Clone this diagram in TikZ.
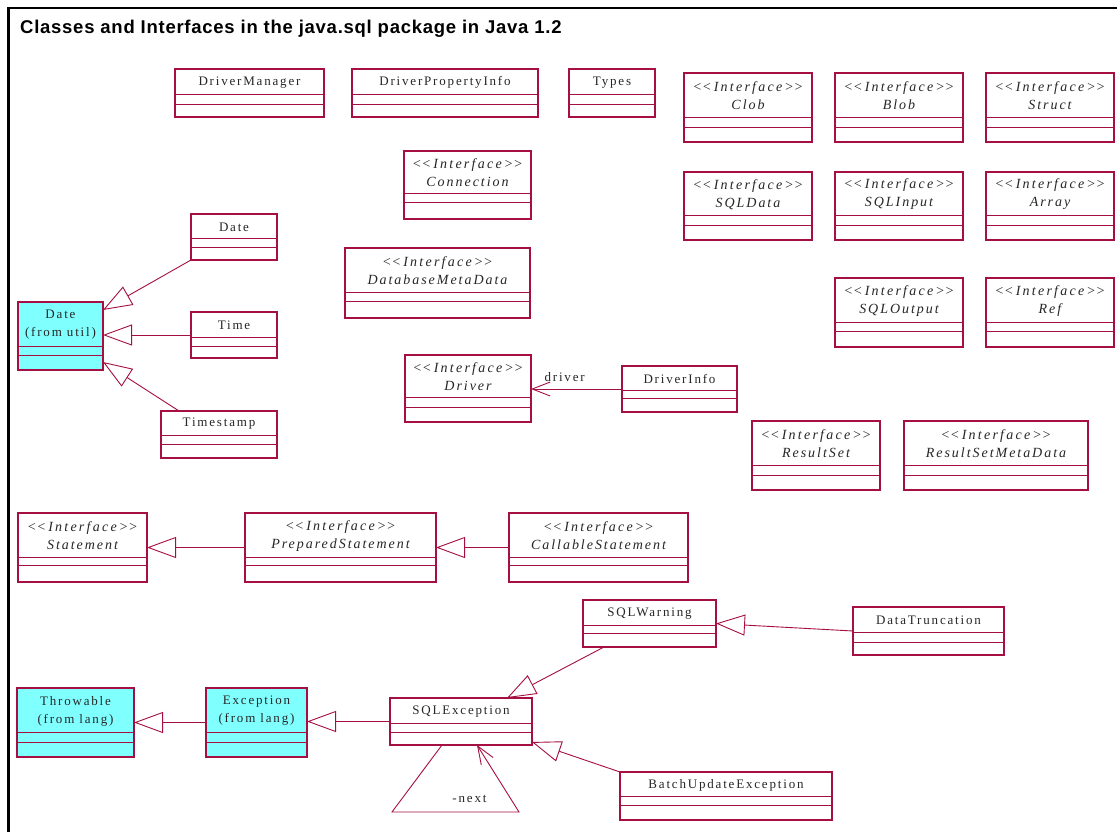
\documentclass[tikz,border=0pt]{standalone}
\usepackage{fontspec}
\setmainfont{Liberation Serif}
\newfontfamily\boxfont[LetterSpace=14]{Liberation Serif}
\newfontfamily\stereofont[LetterSpace=16]{Liberation Serif}
\newfontfamily\titlefont[LetterSpace=4]{Liberation Sans}
\usetikzlibrary{arrows.meta}

\definecolor{umlline}{RGB}{165,15,65}
\definecolor{umlfill}{RGB}{128,255,255}

\tikzset{
  classbox/.style={draw=umlline, line width=1.1pt, anchor=north west,
    inner sep=0pt, outer sep=0pt},
  compline/.style={draw=umlline, line width=0.9pt},
  nametext/.style={font=\boxfont\fontsize{13}{18}\selectfont, text=black!85,
    inner sep=0pt, align=center},
  gen/.style={draw=umlline, line width=0.9pt,
    -{Triangle[open, length=29pt, width=21pt, line width=0.9pt]}},
  assoc/.style={draw=umlline, line width=0.9pt,
    -{Straight Barb[length=18pt, width=14pt, line width=0.9pt]}},
}

% class box: [fill] name, x1, y1, x2, y2, first and second compartment line, label
\newcommand\umlclass[9][]{%
  \node[classbox,#1, minimum width={#5pt-#3pt}, minimum height={#6pt-#4pt}] (#2) at (#3,#4) {};
  \draw[compline] (#3,#7) -- (#5,#7) (#3,#8) -- (#5,#8);
  \node[nametext] (#2-label) at ({(#3+#5)/2},{(#4+#7)/2+1}) {#9};
}
% interface label: stereotype line and italic name
\newcommand\iface[1]{{\stereofont\itshape\fontsize{14}{18}\selectfont <\kern0pt<Interface>\kern0pt>}\\{\itshape\fontsize{14}{18}\selectfont #1}}

\begin{document}
\begin{tikzpicture}[x=1pt, y=-1pt]
\useasboundingbox (0,0) rectangle (1117,832);
\fill[white] (0,0) rectangle (1117,832);

% outer frame
\draw[line width=2.7pt] (8.7,840) -- (8.7,8) -- (1125,8);

\node[anchor=base west, inner sep=0pt, font=\titlefont\bfseries\fontsize{18.5}{22}\selectfont]
  (title) at (20,34) {Classes and Interfaces in the java.sql package in Java 1.2};

% plain classes along the top
\umlclass{dmgr}{175}{69}{324}{117}{94}{104}{DriverManager}
\umlclass{dpinfo}{352}{69}{538}{117}{94}{104}{DriverPropertyInfo}
\umlclass{types}{569}{69}{655}{117}{94}{104}{Types}

% interfaces, right block
\umlclass{clob}{684}{73}{812}{142}{117}{127}{\iface{Clob}}
\umlclass{blob}{835}{73}{963}{142}{117}{127}{\iface{Blob}}
\umlclass{struct}{986}{73}{1114}{142}{117}{127}{\iface{Struct}}
\umlclass{sqldata}{684}{172}{812}{240}{215}{225}{\iface{SQLData}}
\umlclass{sqlinput}{835}{172}{963}{240}{215}{225}{\iface{SQLInput}}
\umlclass{array}{986}{172}{1114}{240}{215}{225}{\iface{Array}}
\umlclass{sqloutput}{835}{278}{963}{347}{322}{331}{\iface{SQLOutput}}
\umlclass{ref}{986}{278}{1114}{347}{322}{331}{\iface{Ref}}

% connection related interfaces
\umlclass{conn}{404}{151}{531}{219}{193}{202}{\iface{Connection}}
\umlclass{dbmeta}{345}{248}{530}{318}{292}{301}{\iface{DatabaseMetaData}}
\umlclass{driver}{405}{355}{531}{422}{397}{407}{\iface{Driver}}
\umlclass{dinfo}{622}{366}{737}{412}{390}{398}{DriverInfo}
\umlclass{rset}{752}{421}{880}{490}{465}{475}{\iface{ResultSet}}
\umlclass{rsmeta}{904}{421}{1088}{490}{465}{475}{\iface{ResultSetMetaData}}

% date and time classes
\umlclass{dsql}{191}{214}{277}{260}{238}{247}{Date}
\umlclass[fill=umlfill]{dutil}{18}{302}{103}{370}{346}{355}{Date\\(from util)}
\umlclass{time}{191}{312}{277}{358}{337}{346}{Time}
\umlclass{tstamp}{161}{411}{277}{458}{435}{444}{Timestamp}

% statements
\umlclass{stmt}{18}{513}{147}{582}{557}{565}{\iface{Statement}}
\umlclass{prep}{245}{513}{436}{582}{557}{565}{\iface{PreparedStatement}}
\umlclass{call}{509}{513}{688}{582}{557}{565}{\iface{CallableStatement}}

% exceptions
\umlclass{warn}{583}{600}{716}{647}{625}{633}{SQLWarning}
\umlclass{dtrunc}{853}{607}{1004}{655}{632}{642}{DataTruncation}
\umlclass[fill=umlfill]{throw}{17}{688}{134}{757}{732}{742}{Throwable\\(from lang)}
\umlclass[fill=umlfill]{exc}{206}{688}{307}{757}{732}{742}{Exception\\(from lang)}
\umlclass{sqlex}{390}{698}{532}{745}{723}{732}{SQLException}
\umlclass{bue}{620}{772}{832}{820}{796}{805}{BatchUpdateException}

% generalizations
\draw[gen] (dsql.south west) -- ([yshift=-8pt]dutil.north east);
\draw[gen] (time.west) -- (time.west -| dutil.east);
\draw[gen] ([xshift=18pt]tstamp.north west) -- ([yshift=8pt]dutil.south east);
\draw[gen] (prep.west) -- (stmt.east);
\draw[gen] (call.west) -- (prep.east);
\draw[gen] (exc.west) -- (throw.east);
\draw[gen] (sqlex.west) -- (sqlex.west -| exc.east);
\draw[gen] ([xshift=21pt]warn.south west) -- ([xshift=-25pt]sqlex.north east);
\draw[gen] (dtrunc.west) -- (warn.east);
\draw[gen] (bue.north west) -- ([yshift=3pt]sqlex.south east);

% associations
\draw[assoc] (dinfo.west) -- node[pos=0.63, above=7pt, nametext] (drvlabel) {driver} (dinfo.west -| driver.east);
\draw[assoc] ([xshift=52pt]sqlex.south west) -- ++(-50,67)
  -- node[pos=0.61, above=9pt, nametext] (nextlabel) {-next} ++(127,0)
  -- ([xshift=87pt]sqlex.south west);
\end{tikzpicture}
\end{document}
